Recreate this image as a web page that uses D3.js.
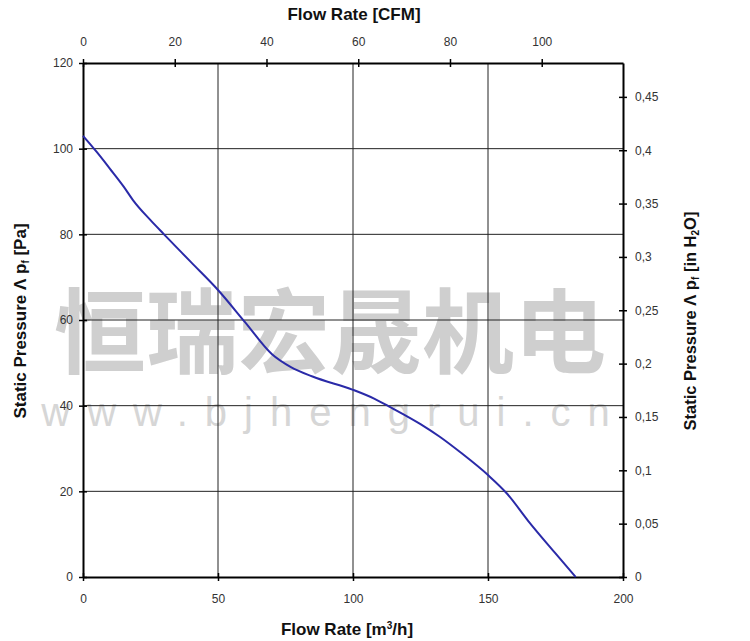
<!DOCTYPE html>
<html><head><meta charset="utf-8">
<script src="https://cdn.jsdelivr.net/npm/d3@7"></script>
<style>body{margin:0;background:#fff}svg{display:block}</style>
</head><body>
<svg id="c" width="750" height="641"></svg>
<script>
// data
const flowM3h = [0, 5, 10, 15, 18.5, 25, 30, 40, 50, 60, 70, 77, 85, 100, 108, 114, 125, 132, 140, 150, 157, 165, 175, 182.5];
const pressurePa = [103, 99.3, 95.3, 91.2, 88, 83.3, 80, 73.5, 67, 59.5, 52, 49, 46.8, 43.7, 41.6, 39.6, 35.7, 32.8, 29, 23.8, 19.5, 13, 5.5, 0];
const bottomTicks = [0, 50, 100, 150, 200];
const topTicks = [0, 20, 40, 60, 80, 100];
const leftTicks = [0, 20, 40, 60, 80, 100, 120];
const rightTicks = [0, 0.05, 0.1, 0.15, 0.2, 0.25, 0.3, 0.35, 0.4, 0.45];

const svg = d3.select('#c');
const L = 83, R = 623, T = 63, B = 577;
const x = d3.scaleLinear().domain([0, 200]).range([L, R]);
const xTop = d3.scaleLinear().domain([0, 200 / 1.699]).range([L, R]);
const y = d3.scaleLinear().domain([0, 120]).range([B, T]);
const yR = d3.scaleLinear().domain([0, 120 / 249.09]).range([B, T]);
const font = "'Liberation Sans', Arial, sans-serif";

// watermark
svg.append('text').attr('x', 330).attr('y', 366).attr('text-anchor', 'middle')
  .attr('font-family', "'Noto Sans CJK SC', sans-serif").attr('font-weight', 'bold')
  .attr('font-size', 92).attr('fill', '#cfcfcf')
  .text('恒瑞宏晟机电');
svg.append('text').attr('x', 334).attr('y', 426).attr('text-anchor', 'middle')
  .attr('font-family', font).attr('font-size', 40).attr('letter-spacing', 17).attr('fill', '#d6d6d6')
  .text('www.bjhengrui.cn');

// grid
const g = svg.append('g');
g.selectAll('.gx').data(bottomTicks.slice(1, -1)).join('line')
  .attr('x1', d => x(d)).attr('x2', d => x(d)).attr('y1', T).attr('y2', B)
  .attr('stroke', '#222').attr('stroke-width', 1);
g.selectAll('.gy').data(leftTicks.slice(1, -1)).join('line')
  .attr('y1', d => y(d)).attr('y2', d => y(d)).attr('x1', L).attr('x2', R)
  .attr('stroke', '#222').attr('stroke-width', 1);

// axes
function styleAxis(sel) {
  sel.selectAll('path').attr('stroke', '#000').attr('stroke-width', 2);
  sel.selectAll('line').attr('stroke', '#000').attr('stroke-width', 1.5);
  sel.selectAll('text').attr('font-family', font).attr('font-size', 12).attr('fill', '#333');
}
const fmtR = d => d3.format('~g')(d).replace('.', ',');
const aB = svg.append('g').attr('transform', `translate(0,${B})`)
  .call(d3.axisBottom(x).tickValues(bottomTicks).tickSize(4).tickSizeOuter(0).tickPadding(13));
const aT = svg.append('g').attr('transform', `translate(0,${T})`)
  .call(d3.axisTop(xTop).tickValues(topTicks).tickSize(4).tickSizeOuter(0).tickPadding(13));
const aL = svg.append('g').attr('transform', `translate(${L},0)`)
  .call(d3.axisLeft(y).tickValues(leftTicks).tickSize(4).tickSizeOuter(0).tickPadding(6));
const aR = svg.append('g').attr('transform', `translate(${R},0)`)
  .call(d3.axisRight(yR).tickValues(rightTicks).tickFormat(fmtR).tickSize(4).tickSizeOuter(0).tickPadding(8));
[aB, aT, aL, aR].forEach(styleAxis);
aB.selectAll('.tick line').attr('y1', -4);
aT.selectAll('.tick line').attr('y1', 4);
aL.selectAll('.tick line').attr('x1', 4);
aR.selectAll('.tick line').attr('x1', -4);

// curve
const pts = flowM3h.map((f, i) => [f, pressurePa[i]]);
svg.append('path').datum(pts)
  .attr('d', d3.line().x(d => x(d[0])).y(d => y(d[1])).curve(d3.curveMonotoneX))
  .attr('fill', 'none').attr('stroke', '#2a2aa8').attr('stroke-width', 2);

// titles
svg.append('text').attr('x', 354).attr('y', 20).attr('text-anchor', 'middle')
  .attr('font-family', font).attr('font-weight', 'bold').attr('font-size', 17).attr('fill', '#111')
  .text('Flow Rate [CFM]');
const bt = svg.append('text').attr('x', 347).attr('y', 635).attr('text-anchor', 'middle')
  .attr('font-family', font).attr('font-weight', 'bold').attr('font-size', 17).attr('fill', '#111');
bt.append('tspan').text('Flow Rate [m');
bt.append('tspan').attr('font-size', 10).attr('dy', -6).text('3');
bt.append('tspan').attr('dy', 6).text('/h]');

const lt = svg.append('text').attr('transform', 'translate(26,321) rotate(-90)').attr('text-anchor', 'middle')
  .attr('font-family', font).attr('font-weight', 'bold').attr('font-size', 17).attr('fill', '#111');
lt.append('tspan').text('Static Pressure Λ p');
lt.append('tspan').attr('font-size', 10).attr('dy', 3).text('f');
lt.append('tspan').attr('dy', -3).text(' [Pa]');

const rt = svg.append('text').attr('transform', 'translate(696,321) rotate(-90)').attr('text-anchor', 'middle')
  .attr('font-family', font).attr('font-weight', 'bold').attr('font-size', 16.5).attr('fill', '#111');
rt.append('tspan').text('Static Pressure Λ p');
rt.append('tspan').attr('font-size', 10).attr('dy', 3).text('f');
rt.append('tspan').attr('dy', -3).text(' [in H');
rt.append('tspan').attr('font-size', 10).attr('dy', 3).text('2');
rt.append('tspan').attr('dy', -3).text('O]');
</script>
</body></html>
